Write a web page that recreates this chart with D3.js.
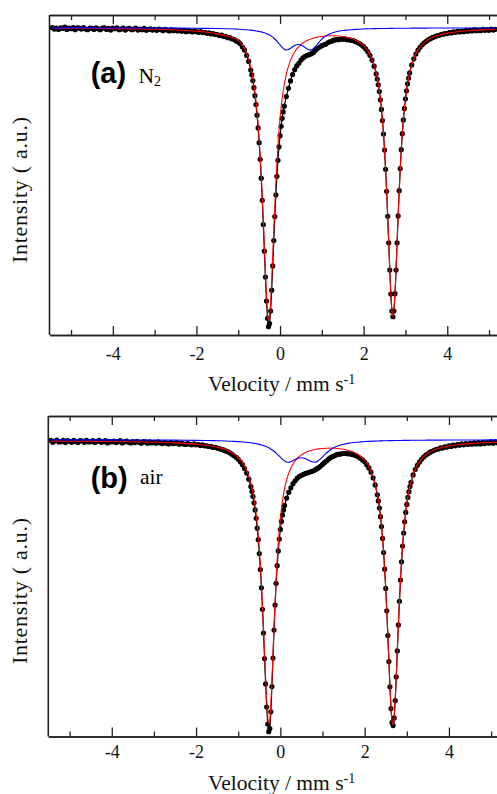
<!DOCTYPE html>
<html><head><meta charset="utf-8">
<script src="https://cdn.jsdelivr.net/npm/d3@7"></script>
<style>body{margin:0;background:#fff} svg{display:block}</style>
</head><body>
<svg id="c" width="497" height="794"></svg>
<script>
// ---- data (velocity in mm/s, intensity in arbitrary units) ----
const velocity = [
-5.45,-5.4,-5.35,-5.3,-5.25,-5.2,-5.15,-5.1,-5.05,-5,
-4.95,-4.9,-4.85,-4.8,-4.75,-4.7,-4.65,-4.6,-4.55,-4.5,
-4.45,-4.4,-4.35,-4.3,-4.25,-4.2,-4.15,-4.1,-4.05,-4,
-3.95,-3.9,-3.85,-3.8,-3.75,-3.7,-3.65,-3.6,-3.55,-3.5,
-3.45,-3.4,-3.35,-3.3,-3.25,-3.2,-3.15,-3.1,-3.05,-3,
-2.95,-2.9,-2.85,-2.8,-2.75,-2.7,-2.65,-2.6,-2.55,-2.5,
-2.45,-2.4,-2.35,-2.3,-2.25,-2.2,-2.15,-2.1,-2.05,-2,
-1.95,-1.9,-1.85,-1.8,-1.75,-1.7,-1.65,-1.6,-1.55,-1.5,
-1.45,-1.4,-1.35,-1.3,-1.25,-1.2,-1.15,-1.1,-1.05,-1,
-0.95,-0.9,-0.85,-0.8,-0.75,
-0.7,-0.675,-0.65,-0.625,-0.6,-0.575,-0.55,-0.525,-0.5,-0.475,
-0.45,-0.425,-0.4,-0.375,-0.35,-0.325,-0.3,-0.275,-0.25,-0.225,
-0.2,-0.175,-0.15,-0.125,-0.1,-0.075,-0.05,-0.025,0,0.025,
0.05,0.075,0.1,
0.15,0.2,0.25,0.3,0.35,0.4,0.45,0.5,0.55,0.6,
0.65,0.7,0.75,0.8,0.85,0.9,0.95,1,1.05,1.1,
1.15,1.2,1.25,1.3,1.35,1.4,1.45,1.5,1.55,1.6,
1.65,1.7,1.75,1.8,1.85,1.9,1.95,2,2.05,2.1,
2.15,2.2,2.25,
2.3,2.325,2.35,2.375,2.4,2.425,2.45,2.475,2.5,2.525,
2.55,2.575,2.6,2.625,2.65,2.675,2.7,2.725,2.75,2.775,
2.8,2.825,2.85,2.875,2.9,2.925,2.95,2.975,3,3.025,
3.05,3.075,3.1,
3.15,3.2,3.25,3.3,3.35,3.4,3.45,3.5,3.55,3.6,
3.65,3.7,3.75,3.8,3.85,3.9,3.95,4,4.05,4.1,
4.15,4.2,4.25,4.3,4.35,4.4,4.45,4.5,4.55,4.6,
4.65,4.7,4.75,4.8,4.85,4.9,4.95,5,5.05,5.1,
5.15];

const intensityN2 = [
96.1,95.6,95.9,95.5,96.0,95.8,96.2,95.5,95.9,95.7,
96.1,95.4,96.0,95.9,95.6,96.1,95.6,95.4,95.9,95.8,
95.5,96.0,95.7,95.4,95.9,96.0,95.5,95.8,95.3,95.9,
95.7,96.0,95.4,95.6,95.9,95.3,95.7,95.8,95.4,95.6,
95.9,95.3,95.6,95.4,95.8,95.2,95.5,95.7,95.3,95.5,
95.2,95.6,95.4,95.1,95.5,95.3,95.0,95.4,95.1,95.3,
95.0,95.2,94.9,95.2,94.8,95.1,94.9,94.7,95.0,94.8,
94.6,94.8,94.5,94.6,94.3,94.4,94.1,94.2,93.9,93.9,
93.6,93.7,93.3,93.3,92.9,92.9,92.5,92.4,91.9,91.6,
91.0,90.0,89.1,87.4,85.5,
82.8,81.3,79.5,77.3,74.8,72.0,68.7,64.7,60.1,54.9,
49.0,42.1,34.5,26.2,18.1,10.6,5.2,2.6,3.6,7.5,
14.0,21.6,29.5,37.0,43.8,49.6,54.6,58.8,62.3,65.2,
67.7,69.7,71.5,
74.5,77.1,79.4,81.4,82.9,84.1,84.9,85.9,86.6,87.1,
87.4,87.6,87.9,88.3,89.0,89.6,90.0,90.4,90.7,90.9,
91.4,91.7,91.9,92.2,92.3,92.3,92.5,92.4,92.5,92.3,
92.3,92.1,92.0,91.7,91.4,91.1,90.6,90.1,89.4,88.5,
87.4,85.9,84.0,
81.6,80.0,78.2,76.1,73.5,70.5,67.0,62.8,57.8,51.8,
44.9,37.1,28.8,20.3,12.8,7.5,5.7,7.5,12.9,20.3,
28.8,37.2,45.1,52.0,57.9,62.9,67.2,70.8,73.8,76.3,
78.5,80.3,81.9,
84.4,86.3,87.8,89.0,89.9,90.7,91.3,91.8,92.3,92.6,
93.0,93.2,93.5,93.6,93.9,94.0,94.2,94.2,94.5,94.4,
94.7,94.6,94.9,94.7,95.0,94.8,95.2,94.9,95.2,95.0,
95.4,95.1,95.3,95.1,95.5,95.2,95.4,95.2,95.6,95.3,
95.5];

const intensityAir = [
92.4,91.8,92.2,92.5,91.9,92.0,92.4,91.7,92.3,92.1,
91.8,92.4,92.0,91.7,92.3,92.2,91.8,92.4,91.9,92.0,
92.3,91.7,92.1,92.4,91.8,92.0,92.3,91.6,92.1,91.9,
92.2,91.7,92.0,92.3,91.6,91.9,92.2,91.8,91.6,92.0,
91.7,92.1,91.8,91.5,92.0,91.9,91.5,91.9,91.6,91.8,
91.5,91.9,91.6,91.4,91.8,91.5,91.3,91.7,91.4,91.5,
91.6,91.2,91.5,91.3,91.1,91.5,91.2,91.0,91.3,91.0,
91.1,90.8,91.0,90.7,90.7,90.5,90.5,90.2,90.2,90.0,
89.8,89.6,89.4,89.1,88.9,88.5,88.1,87.6,87.1,86.5,
85.7,84.8,83.6,82.2,80.3,
78.0,76.5,74.9,72.9,70.7,68.1,65.0,61.4,57.1,52.1,
46.4,39.7,32.3,24.3,16.4,9.2,3.9,1.5,2.5,7.7,
15.6,24.5,33.2,41.0,47.8,53.3,57.9,61.6,64.6,67.1,
69.1,70.7,72.1,
74.4,76.2,77.6,78.9,79.8,80.6,81.1,81.5,81.8,82.1,
82.3,82.5,82.7,83.0,83.4,83.8,84.3,84.9,85.5,86.0,
86.6,87.1,87.4,87.7,88.0,88.1,88.2,88.3,88.3,88.2,
88.2,88.0,87.8,87.6,87.2,86.8,86.3,85.7,84.8,83.8,
82.5,80.7,78.5,
75.4,73.5,71.3,68.6,65.5,61.8,57.4,52.2,46.2,39.2,
31.5,23.4,15.5,8.7,4.4,3.4,5.8,11.2,18.6,26.7,
34.8,42.2,48.8,54.5,59.4,63.5,67.0,69.9,72.4,74.6,
76.4,78.0,79.3,
81.6,83.3,84.6,85.6,86.5,87.2,87.8,88.2,88.7,89.0,
89.3,89.6,89.7,90.1,90.0,90.4,90.3,90.7,90.5,90.9,
90.7,91.1,90.9,91.3,91.0,91.4,91.1,91.5,91.2,91.6,
91.3,91.7,91.3,91.8,91.4,91.8,91.5,91.9,91.5,91.9,
91.6];

const fitVelocity = [
-5.45,-5,-4.5,-4,-3.5,-3,-2.5,-2,-1.75,-1.5,
-1.3,-1.1,-1,-0.9,-0.8,-0.7,-0.65,-0.6,-0.55,-0.5,
-0.45,-0.4,-0.35,-0.3,-0.275,-0.25,-0.2,-0.15,-0.1,-0.05,
0,0.05,0.1,0.15,0.2,0.25,0.3,0.35,0.4,0.45,
0.5,0.55,0.6,0.65,0.7,0.75,0.8,0.85,0.9,0.95,
1,1.1,1.2,1.3,1.4,1.5,1.6,1.7,1.8,1.9,
2,2.1,2.2,2.3,2.35,2.4,2.45,2.5,2.55,2.6,
2.65,2.675,2.7,2.75,2.8,2.85,2.9,2.95,3,3.05,
3.1,3.2,3.3,3.4,3.5,3.6,3.8,4,4.25,4.5,
4.75,5,5.15];

const fitMainN2 = [
95.85,95.82,95.79,95.73,95.65,95.53,95.31,94.96,94.62,94.10,
93.55,92.76,92.06,90.65,88.07,83.57,80.26,75.73,69.69,61.19,
50.25,35.93,19.74,7.18,4.72,5.82,16.66,32.69,47.58,59.17,
67.65,73.76,78.21,81.48,83.95,85.83,87.30,88.46,89.39,90.14,
90.75,91.26,91.68,92.03,92.33,92.58,92.78,92.96,93.10,93.22,
93.32,93.45,93.52,93.52,93.45,93.30,93.07,92.73,92.22,91.50,
90.43,88.81,86.21,81.82,78.43,73.76,67.21,57.96,45.14,28.93,
13.02,7.77,5.88,13.04,28.98,45.21,58.05,67.33,73.90,78.59,
82.00,86.45,89.10,90.78,91.91,92.72,93.73,94.33,94.79,95.08,
95.27,95.41,95.47];

const fitMinorN2 = [
95.98,95.97,95.97,95.95,95.95,95.93,95.90,95.85,95.81,95.77,
95.71,95.62,95.56,95.49,95.39,95.27,95.19,95.10,94.99,94.87,
94.72,94.54,94.32,94.05,93.90,93.72,93.31,92.81,92.19,91.47,
90.67,89.90,89.31,89.06,89.19,89.58,90.06,90.47,90.72,90.78,
90.64,90.32,89.87,89.40,89.09,89.11,89.51,90.20,90.99,91.77,
92.45,93.49,94.17,94.62,94.92,95.14,95.29,95.41,95.50,95.57,
95.63,95.68,95.71,95.75,95.76,95.77,95.78,95.79,95.80,95.81,
95.82,95.82,95.83,95.84,95.85,95.85,95.86,95.86,95.87,95.87,
95.88,95.89,95.90,95.90,95.91,95.92,95.92,95.93,95.94,95.95,
95.95,95.96,95.96];

const fitMainAir = [
92.15,92.13,92.09,92.03,91.96,91.83,91.63,91.23,90.88,90.30,
89.52,88.16,87.05,85.44,82.97,78.94,75.92,71.85,66.29,58.58,
47.99,34.13,18.45,6.29,4.00,5.18,17.34,34.37,49.25,60.26,
67.99,73.44,77.31,80.11,82.20,83.79,85.02,85.98,86.74,87.36,
87.87,88.28,88.62,88.90,89.13,89.33,89.49,89.62,89.73,89.81,
89.88,89.96,89.97,89.92,89.80,89.61,89.32,88.90,88.31,87.45,
86.19,84.26,81.15,75.78,71.60,65.81,57.71,46.49,31.84,15.76,
4.70,3.64,6.09,18.88,35.06,49.08,59.64,67.24,72.67,76.61,
79.53,83.41,85.78,87.32,88.37,89.12,90.09,90.67,91.11,91.39,
91.58,91.72,91.78];

const fitMinorAir = [
92.57,92.56,92.55,92.54,92.52,92.50,92.46,92.40,92.35,92.28,
92.20,92.09,92.01,91.91,91.79,91.64,91.54,91.43,91.30,91.15,
90.98,90.77,90.53,90.24,90.07,89.89,89.48,88.99,88.42,87.79,
87.12,86.48,85.95,85.64,85.58,85.76,86.07,86.42,86.72,86.91,
86.97,86.89,86.67,86.36,86.00,85.71,85.57,85.68,86.04,86.60,
87.25,88.54,89.57,90.30,90.82,91.19,91.45,91.65,91.81,91.92,
92.02,92.09,92.15,92.20,92.23,92.25,92.27,92.28,92.30,92.31,
92.33,92.33,92.34,92.35,92.36,92.37,92.38,92.39,92.40,92.41,
92.42,92.43,92.44,92.45,92.46,92.47,92.48,92.50,92.51,92.52,
92.53,92.54,92.54];

const majorTicks = [-4, -2, 0, 2, 4];
const minorTicks = [-5, -3, -1, 1, 3, 5];
const panelTags = ["(a)", "(b)"];
const panelGas = ["N", "air"];
const xLabel = "Velocity / mm s";
const yLabel = "Intensity ( a.u.)";

// ---- checks ----
[intensityN2, intensityAir].forEach((a, i) => {
  if (a.length !== velocity.length) console.error("length mismatch data", i, a.length, velocity.length);
});
[fitMainN2, fitMinorN2, fitMainAir, fitMinorAir].forEach((a, i) => {
  if (a.length !== fitVelocity.length) console.error("length mismatch fit", i, a.length, fitVelocity.length);
});

// ---- layout ----
const serif = "'Liberation Serif', 'Times New Roman', Times, serif";
const sans = "'Liberation Sans', Arial, Helvetica, sans-serif";
const svg = d3.select("#c");

const panels = [
  { data: intensityN2, main: fitMainN2, minor: fitMinorN2,
    left: 49.5, right: 497, top: 15, bottom: 335, xdom: [-5.515, 5.19],
    tickPad: 12.2, xLabY: 391, yLabY: 190,
    tag: panelTags[0], tagX: 90.7, tagY: 82.7, gas: panelGas[0], gasX: 138.5, gasY: 83.3, sub: "2" },
  { data: intensityAir, main: fitMainAir, minor: fitMinorAir,
    left: 48.3, right: 497, top: 416, bottom: 736.5, xdom: [-5.506, 5.14],
    tickPad: 9, xLabY: 790, yLabY: 591,
    tag: panelTags[1], tagX: 90.7, tagY: 488.3, gas: panelGas[1], gasX: 140, gasY: 483.5, sub: null }
];

panels.forEach((p, pi) => {
  const x = d3.scaleLinear().domain(p.xdom).range([p.left, p.right]);
  const y = d3.scaleLinear().domain([0, 100]).range([p.bottom, p.top]);
  const g = svg.append("g");

  const clipId = "clip" + pi;
  svg.append("clipPath").attr("id", clipId).append("rect")
    .attr("x", p.left).attr("y", p.top - 4).attr("width", p.right - p.left).attr("height", p.bottom - p.top + 4);

  const plot = g.append("g").attr("clip-path", `url(#${clipId})`);
  const pts = velocity.map((v, i) => [v, p.data[i]]);

  // data dots
  plot.append("g").selectAll("circle").data(pts).join("circle")
    .attr("cx", d => x(d[0])).attr("cy", d => y(d[1])).attr("r", 2.6)
    .attr("fill", "#000");

  // total fit (line through data)
  plot.append("path").datum(pts)
    .attr("d", d3.line().x(d => x(d[0])).y(d => y(d[1])))
    .attr("fill", "none").attr("stroke", "#000").attr("stroke-width", 1.2);

  const fitLine = d3.line().x(d => x(d[0])).y(d => y(d[1])).curve(d3.curveMonotoneX);
  plot.append("path").datum(fitVelocity.map((v, i) => [v, p.main[i]]))
    .attr("d", fitLine).attr("fill", "none").attr("stroke", "#ff0000").attr("stroke-width", 1.1);
  plot.append("path").datum(fitVelocity.map((v, i) => [v, p.minor[i]]))
    .attr("d", fitLine).attr("fill", "none").attr("stroke", "#0000ff").attr("stroke-width", 1.1);

  // axes
  const axColor = "#222";
  const bottomMajor = g.append("g").attr("transform", `translate(0,${p.bottom})`)
    .call(d3.axisBottom(x).tickValues(majorTicks).tickSizeInner(-9).tickSizeOuter(0)
      .tickPadding(p.tickPad).tickFormat(d => String(d)));
  const bottomMinor = g.append("g").attr("transform", `translate(0,${p.bottom})`)
    .call(d3.axisBottom(x).tickValues(minorTicks).tickSizeInner(-5).tickSizeOuter(0).tickFormat(""));
  const topMajor = g.append("g").attr("transform", `translate(0,${p.top})`)
    .call(d3.axisTop(x).tickValues(majorTicks).tickSizeInner(-9).tickSizeOuter(0).tickFormat(""));
  const topMinor = g.append("g").attr("transform", `translate(0,${p.top})`)
    .call(d3.axisTop(x).tickValues(minorTicks).tickSizeInner(-5).tickSizeOuter(0).tickFormat(""));
  [bottomMajor, bottomMinor, topMajor, topMinor].forEach(a => {
    a.attr("font-family", null).attr("font-size", null);
    a.selectAll(".domain").attr("stroke", axColor).attr("stroke-width", 1.6);
    a.selectAll(".tick line").attr("stroke", axColor).attr("stroke-width", 1.3);
  });
  bottomMajor.selectAll(".tick text")
    .style("font-family", serif).style("font-size", "18px").attr("fill", "#111");

  g.append("line").attr("x1", p.left).attr("x2", p.left).attr("y1", p.top).attr("y2", p.bottom)
    .attr("stroke", axColor).attr("stroke-width", 1.6);

  // axis labels
  const xl = g.append("text").attr("x", 208).attr("y", p.xLabY)
    .style("font-family", serif).style("font-size", "21.5px").attr("fill", "#111");
  xl.append("tspan").text(xLabel);
  xl.append("tspan").attr("dy", -7).style("font-size", "14px").text("-1");

  g.append("text").attr("transform", `translate(27.3,${p.yLabY}) rotate(-90)`)
    .attr("text-anchor", "middle").style("font-family", serif).style("font-size", "22px")
    .attr("textLength", 146).attr("lengthAdjust", "spacing").attr("fill", "#111")
    .text(yLabel);

  // panel tag
  g.append("text").attr("x", p.tagX).attr("y", p.tagY)
    .style("font-family", sans).style("font-weight", "bold").style("font-size", "29px").attr("fill", "#000")
    .text(p.tag);
  const gt = g.append("text").attr("x", p.gasX).attr("y", p.gasY)
    .style("font-family", serif).style("font-size", "21.5px").attr("fill", "#000");
  gt.append("tspan").text(p.gas);
  if (p.sub) gt.append("tspan").attr("dy", 3).style("font-size", "14px").text(p.sub);
});
</script>
</body></html>
